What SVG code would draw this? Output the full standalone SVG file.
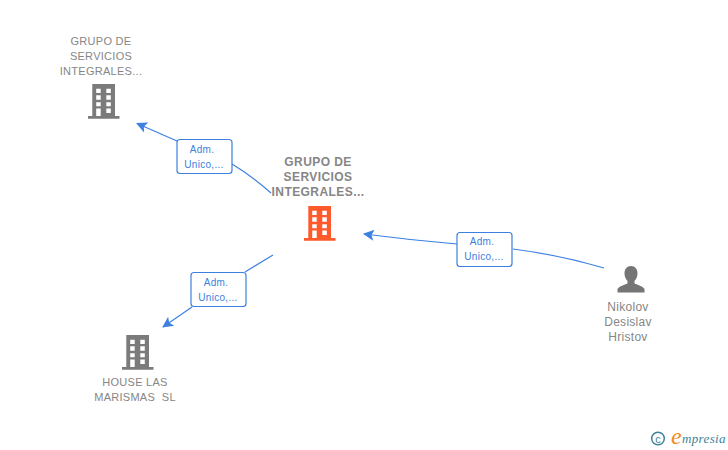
<svg xmlns="http://www.w3.org/2000/svg" width="728" height="450" viewBox="0 0 728 450">
<style>
.n{font-family:"Liberation Sans",Arial,sans-serif;font-size:11px;letter-spacing:.28px;fill:#868686;text-anchor:middle}
.c{font-weight:bold;font-size:12px;letter-spacing:.42px}
.l{font-family:"Liberation Sans",Arial,sans-serif;font-size:10px;letter-spacing:.3px;fill:#3c80e0;text-anchor:middle}
.b{fill:#fff;stroke:#3c80e0;stroke-width:1.2}
.e{fill:none;stroke:#3c80e0;stroke-width:1.2}
</style>
<defs>
<path id="bld" fill-rule="evenodd" d="M4.300 0H27V32H31.500V34.700H0V32H4.300ZM8.200 4.700V9H12.700V4.700ZM18.300 4.700V9H22.800V4.700ZM8.200 11.300V15.700H12.700V11.300ZM18.300 11.300V15.700H22.800V11.300ZM8.200 18.300V22.300H12.700V18.300ZM18.300 18.300V22.300H22.800V18.300ZM8.200 24.500V32H12.700V24.500ZM18.300 24.500V29H22.800V24.500Z"/>
<marker id="a" viewBox="0 0 12 12" refX="1" refY="6" markerWidth="12" markerHeight="12" markerUnits="userSpaceOnUse" orient="auto"><path d="M0 6L11 0.500L8.500 6L11 11.500Z" fill="#3c80e0"/></marker>
</defs>
<g id="connectors">
<path class="e" d="M137 123.500L177 141" marker-start="url(#a)"/>
<path class="e" d="M232 164Q252 176 271 193"/>
<path class="e" d="M364 234Q410 240 457 244" marker-start="url(#a)"/>
<path class="e" d="M513 249Q560 255 604 268"/>
<path class="e" d="M163 327L192 307" marker-start="url(#a)"/>
<path class="e" d="M245 272L273 255"/>
</g>
<g id="node-top">
<text class="n"><tspan x="101" y="45">GRUPO DE</tspan><tspan x="101" y="60">SERVICIOS</tspan><tspan x="101" y="75">INTEGRALES...</tspan></text>
<use href="#bld" x="88" y="84" fill="#7b7b7b"/>
</g>
<g id="node-center">
<text class="n c"><tspan x="318" y="166">GRUPO DE</tspan><tspan x="318" y="181">SERVICIOS</tspan><tspan x="318" y="196">INTEGRALES...</tspan></text>
<use href="#bld" x="304" y="206" fill="#ff5a2c"/>
</g>
<g id="node-house">
<use href="#bld" x="122" y="335" fill="#7b7b7b"/>
<text class="n"><tspan x="135" y="386">HOUSE LAS</tspan><tspan x="135" y="401">MARISMAS&#160; SL</tspan></text>
</g>
<g id="node-person">
<path fill="#757575" d="M631 266c4.200 0 6.500 3.200 6.500 7.500c0 3.200-1.300 5.800-3 7.500v2.500c3 1.500 8 2.500 10 5.500v3.500h-27v-3.500c2-3 7-4 10-5.500v-2.500c-1.700-1.700-3-4.300-3-7.500c0-4.300 2.300-7.500 6.500-7.500Z"/>
<text class="n" style="font-size:12px"><tspan x="628" y="311">Nikolov</tspan><tspan x="628" y="326">Desislav</tspan><tspan x="628" y="341">Hristov</tspan></text>
</g>
<g id="label-top">
<rect class="b" x="177" y="139.500" width="55" height="34" rx="3"/>
<text class="l"><tspan x="202" y="153">Adm.</tspan><tspan x="204" y="168">Unico,...</tspan></text>
</g>
<g id="label-right">
<rect class="b" x="457" y="232.500" width="55" height="34" rx="3"/>
<text class="l"><tspan x="482" y="245">Adm.</tspan><tspan x="484" y="260">Unico,...</tspan></text>
</g>
<g id="label-bottom">
<rect class="b" x="191" y="272.500" width="55" height="34" rx="3"/>
<text class="l"><tspan x="216" y="286">Adm.</tspan><tspan x="218" y="301">Unico,...</tspan></text>
</g>
<g id="logo">
<circle cx="658" cy="438.500" r="6.300" fill="none" stroke="#3f8197" stroke-width="1.500"/>
<text x="658" y="442.500" font-family="Liberation Sans,sans-serif" font-size="11" fill="#3f8197" text-anchor="middle">c</text>
<text x="671" y="444" font-family="Liberation Serif,serif" font-style="italic" font-size="24" fill="#f08a1c">e</text>
<text x="682" y="443" font-family="Liberation Serif,serif" font-style="italic" font-size="13" letter-spacing=".35" fill="#3f8197">mpresia</text>
</g>
</svg>
